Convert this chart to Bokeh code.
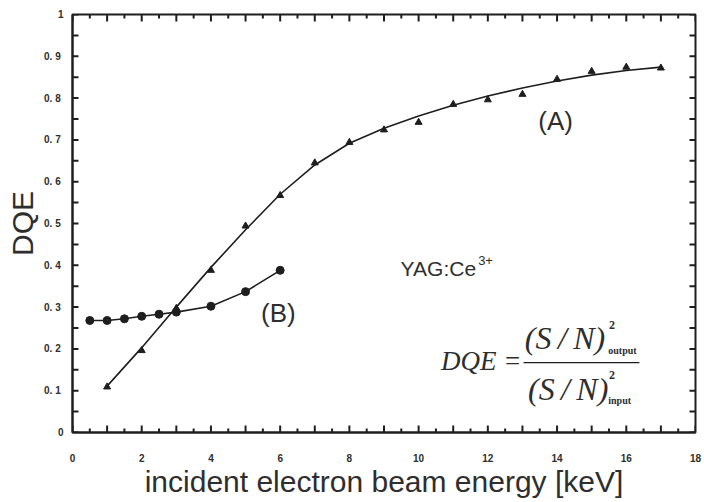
from bokeh.plotting import figure
from bokeh.models import FixedTicker, Label, Range1d, CustomJSTickFormatter
from bokeh.embed import file_html
from bokeh.resources import INLINE

# ---- data ----
energy_a = [1, 2, 3, 4, 5, 6, 7, 8, 9, 10, 11, 12, 13, 14, 15, 16, 17]
dqe_a = [0.109, 0.196, 0.297, 0.388, 0.494, 0.567, 0.645, 0.694, 0.724, 0.742,
         0.785, 0.796, 0.809, 0.845, 0.864, 0.874, 0.872]
# smooth fitted curve through series A
fit_x = [1, 2, 3, 4, 5, 6, 7, 8, 9, 10, 11, 12, 13, 14, 15, 16, 17]
fit_y = [0.111, 0.203, 0.300, 0.395, 0.485, 0.570, 0.640, 0.692, 0.728, 0.757,
         0.783, 0.805, 0.824, 0.841, 0.855, 0.866, 0.874]

energy_b = [0.5, 1, 1.5, 2, 2.5, 3, 4, 5, 6]
dqe_b = [0.268, 0.268, 0.272, 0.278, 0.283, 0.288, 0.302, 0.337, 0.388]

x_label_ticks = [0, 2, 4, 6, 8, 10, 12, 14, 16, 18]
x_major = list(range(0, 19))
x_minor = [i + 0.5 for i in range(0, 18)]
y_label_ticks = [0, 0.1, 0.2, 0.3, 0.4, 0.5, 0.6, 0.7, 0.8, 0.9, 1]
y_all_ticks = [i / 20 for i in range(0, 21)]

X_MIN, X_MAX, Y_MIN, Y_MAX = 0, 18, 0, 1
FW, FH = 623, 418

INK = "#1e1e1e"
TXT = "#2e2e2e"
SANS = "Liberation Sans"
SERIF = "Liberation Serif"

p = figure(frame_width=FW, frame_height=FH,
           x_range=Range1d(X_MIN, X_MAX), y_range=Range1d(Y_MIN, Y_MAX),
           output_backend="svg", toolbar_location=None,
           min_border_left=72, min_border_right=9, min_border_top=14,
           min_border_bottom=62, border_fill_color="white")
p.grid.visible = False
p.outline_line_color = INK
p.outline_line_width = 2


def style_axis(ax, ticks):
    ax.ticker = FixedTicker(ticks=ticks, minor_ticks=[])
    ax.axis_line_color = INK
    ax.axis_line_width = 2
    ax.major_tick_line_color = None
    ax.minor_tick_line_color = None
    ax.major_tick_in = 0
    ax.major_tick_out = 0
    ax.major_label_text_font = SANS
    ax.major_label_text_font_style = "bold"
    ax.major_label_text_font_size = "10px"
    ax.major_label_text_color = TXT


xa = p.xaxis[0]
style_axis(xa, x_label_ticks)
xa.major_label_standoff = 21
xa.axis_label = "incident electron beam energy [keV]"
xa.axis_label_text_font = SANS
xa.axis_label_text_font_style = "normal"
xa.axis_label_text_font_size = "30px"
xa.axis_label_text_color = TXT
xa.axis_label_standoff = 0

ya = p.yaxis[0]
style_axis(ya, y_label_ticks)
ya.formatter = CustomJSTickFormatter(code="""
    if (tick < 0.001) { return "0"; }
    if (tick > 0.999) { return "1"; }
    return "0.  " + Math.round(tick * 10);
""")
ya.major_label_standoff = 9
ya.axis_label = "DQE"
ya.axis_label_text_font = SANS
ya.axis_label_text_font_style = "normal"
ya.axis_label_text_font_size = "30px"
ya.axis_label_text_color = TXT
ya.axis_label_standoff = 2

# ---- inward tick marks on all four sides ----
dx_px = (X_MAX - X_MIN) / FW
dy_px = (Y_MAX - Y_MIN) / FH
for xs, ln in ((x_major, 7), (x_minor, 4)):
    h = ln * dy_px
    p.segment(x0=xs, y0=[Y_MIN] * len(xs), x1=xs, y1=[Y_MIN + h] * len(xs),
              line_color=INK, line_width=2)
    p.segment(x0=xs, y0=[Y_MAX] * len(xs), x1=xs, y1=[Y_MAX - h] * len(xs),
              line_color=INK, line_width=2)
w = 6 * dx_px
p.segment(x0=[X_MIN] * len(y_all_ticks), y0=y_all_ticks, x1=[X_MIN + w] * len(y_all_ticks),
          y1=y_all_ticks, line_color=INK, line_width=2)
p.segment(x0=[X_MAX] * len(y_all_ticks), y0=y_all_ticks, x1=[X_MAX - w] * len(y_all_ticks),
          y1=y_all_ticks, line_color=INK, line_width=2)

# ---- series ----
p.line(fit_x, fit_y, line_color=INK, line_width=1.6)
p.scatter(energy_a, dqe_a, marker="triangle", size=7, fill_color=INK, line_color=INK)
p.line(energy_b, dqe_b, line_color=INK, line_width=1.6)
p.scatter(energy_b, dqe_b, marker="circle", size=8, fill_color=INK, line_color=INK)

# ---- annotations ----
def lab(x, y, t, size, font=SANS, style="normal", align="center", baseline="middle"):
    p.add_layout(Label(x=x, y=y, text=t, text_font=font, text_font_style=style,
                       text_font_size=size, text_color=TXT, text_align=align,
                       text_baseline=baseline))

lab(13.96, 0.746, "(A)", "26px")
lab(5.95, 0.287, "(B)", "26px")
lab(9.48, 0.392, "YAG:Ce", "21px", align="left")
lab(11.72, 0.412, "3+", "13px", align="left")

lab(12.97, 0.172, "DQE =", "27px", font=SERIF, style="italic", align="right")
p.segment(x0=[13.03], y0=[0.167], x1=[16.38], y1=[0.167], line_color=INK, line_width=1.3)
lab(13.07, 0.227, "(S\u2009/\u2009N)", "32px", font=SERIF, style="italic", align="left")
lab(15.50, 0.258, "2", "12px", font=SERIF, style="bold", align="left")
lab(15.48, 0.196, "output", "10px", font=SERIF, style="bold", align="left")
lab(13.16, 0.105, "(S\u2009/\u2009N)", "32px", font=SERIF, style="italic", align="left")
lab(15.50, 0.138, "2", "12px", font=SERIF, style="bold", align="left")
lab(15.48, 0.077, "input", "10px", font=SERIF, style="bold", align="left")

open("out.html", "w").write(file_html(p, INLINE))
